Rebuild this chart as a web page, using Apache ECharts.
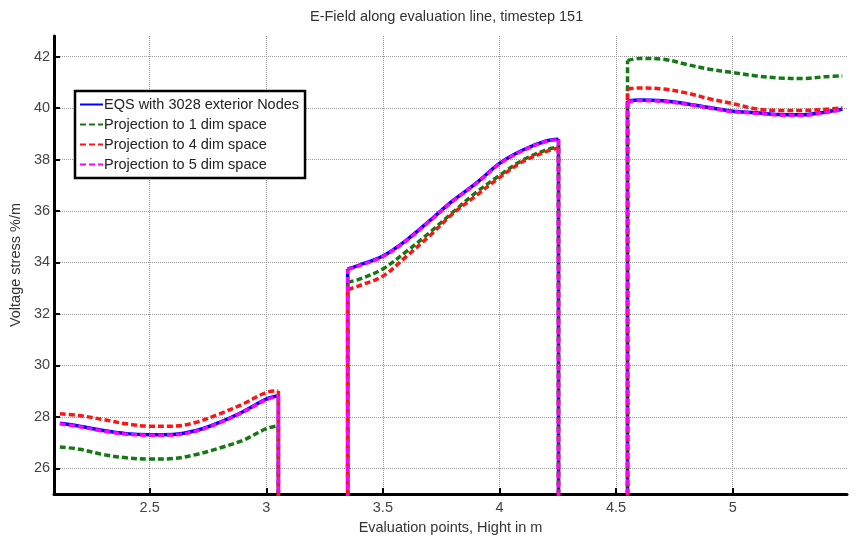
<!DOCTYPE html>
<html>
<head>
<meta charset="utf-8">
<script src="https://cdn.jsdelivr.net/npm/echarts@6/dist/echarts.min.js"></script>
<style>html,body{margin:0;padding:0;background:#fff}#c{width:857px;height:540px}</style>
</head>
<body>
<div id="c"></div>
<script>
// ---- data ----
var seriesNames = ['EQS with 3028 exterior Nodes', 'Projection to 1 dim space', 'Projection to 4 dim space', 'Projection to 5 dim space'];
var seriesColors = ['#0000ff', '#137a13', '#ff1414', '#ff00ff'];
var xTicks = [2.5, 3, 3.5, 4, 4.5, 5];
var yTicks = [26, 28, 30, 32, 34, 36, 38, 40, 42];

var xSeg1 = [2.115, 2.2, 2.3, 2.4, 2.5, 2.6, 2.7, 2.8, 2.9, 3.0, 3.052];
var xSeg2 = [3.349, 3.4, 3.5, 3.6, 3.7, 3.8, 3.9, 4.0, 4.1, 4.2, 4.253];
var xSeg3 = [4.549, 4.6, 4.7, 4.8, 4.9, 5.0, 5.1, 5.2, 5.3, 5.4, 5.47];

var eqs1 = [27.75, 27.64, 27.47, 27.35, 27.31, 27.32, 27.47, 27.79, 28.20, 28.69, 28.82];
var eqs2 = [33.75, 33.90, 34.25, 34.86, 35.62, 36.40, 37.08, 37.85, 38.37, 38.72, 38.79];
var eqs3 = [40.27, 40.31, 40.28, 40.17, 40.02, 39.88, 39.82, 39.75, 39.74, 39.85, 39.95];

var p1a = [26.83, 26.74, 26.54, 26.41, 26.36, 26.38, 26.54, 26.79, 27.09, 27.54, 27.66];
var p1b = [33.24, 33.35, 33.75, 34.42, 35.16, 35.95, 36.72, 37.38, 37.98, 38.37, 38.50];
var p1c = [41.85, 41.93, 41.90, 41.70, 41.51, 41.38, 41.25, 41.17, 41.15, 41.22, 41.25];

var p4a = [28.12, 28.05, 27.90, 27.73, 27.64, 27.64, 27.79, 28.12, 28.50, 28.95, 29.01];
var p4b = [32.95, 33.10, 33.47, 34.23, 35.03, 35.90, 36.60, 37.30, 37.92, 38.31, 38.46];
var p4c = [40.74, 40.78, 40.74, 40.59, 40.36, 40.17, 39.97, 39.91, 39.91, 39.95, 40.01];

var p5a = [27.73, 27.62, 27.45, 27.33, 27.29, 27.30, 27.45, 27.77, 28.18, 28.67, 28.80];
var p5b = [33.73, 33.88, 34.23, 34.84, 35.60, 36.38, 37.06, 37.83, 38.35, 38.70, 38.77];
var p5c = [40.25, 40.29, 40.26, 40.15, 40.00, 39.86, 39.80, 39.73, 39.72, 39.83, 39.93];

var gapLevel = 0; // field value outside the evaluated segments

var FONT = '"Liberation Sans", Arial, sans-serif';
var FS = 14.5;

function zip(xs, ys) { return xs.map(function (x, i) { return [x, ys[i]]; }); }

function makeSeries(idx, a, b, c) {
  var name = seriesNames[idx], color = seriesColors[idx];
  var ls = {color: color, width: 3.5, type: idx === 0 ? 'solid' : [6, 3]};
  var base = {name: name, type: 'line', symbol: 'none', showSymbol: false,
              lineStyle: ls, itemStyle: {color: color}, z: 2 + idx};
  var out = [];
  [[xSeg1, a], [xSeg2, b], [xSeg3, c]].forEach(function (s) {
    out.push(Object.assign({}, base, {data: zip(s[0], s[1]), smooth: 0.35}));
  });
  var e1 = xSeg1.length - 1, e2 = xSeg2.length - 1;
  var edges = [
    [xSeg1[e1], a[e1]], [xSeg1[e1], gapLevel], [xSeg2[0], gapLevel], [xSeg2[0], b[0]], '-',
    [xSeg2[e2], b[e2]], [xSeg2[e2], gapLevel], [xSeg3[0], gapLevel], [xSeg3[0], c[0]]
  ];
  out.push(Object.assign({}, base, {data: edges, smooth: false, connectNulls: false}));
  return out;
}

var series = [].concat(
  makeSeries(0, eqs1, eqs2, eqs3),
  makeSeries(1, p1a, p1b, p1c),
  makeSeries(2, p4a, p4b, p4c),
  makeSeries(3, p5a, p5b, p5c)
);

var chart = echarts.init(document.getElementById('c'), null, {renderer: 'canvas'});
chart.setOption({
  animation: false,
  backgroundColor: '#fff',
  title: {
    text: 'E-Field along evaluation line, timestep 151',
    left: 310, top: 9, padding: 0,
    textStyle: {fontFamily: FONT, fontSize: FS, fontWeight: 'normal', color: '#333'}
  },
  legend: {
    orient: 'vertical', left: 75, top: 91,
    padding: [6, 6, 6, 4], itemGap: 5, itemWidth: 23, itemHeight: 14,
    backgroundColor: '#fff', borderColor: '#000', borderWidth: 2.5,
    itemStyle: {opacity: 0},
    textStyle: {fontFamily: FONT, fontSize: FS, color: '#222', padding: [0, 0, 0, -4]},
    data: seriesNames
  },
  grid: {left: 50, right: 10, top: 36, bottom: 42, containLabel: false},
  xAxis: {
    type: 'value', min: 2.09, max: 5.49,
    name: 'Evaluation points, Hight in m', nameLocation: 'middle', nameGap: 23,
    nameTextStyle: {fontFamily: FONT, fontSize: FS, color: '#333'},
    axisLine: {onZero: false, lineStyle: {color: '#000', width: 3}},
    axisTick: {inside: true, length: 6, lineStyle: {color: '#000', width: 2}, customValues: xTicks},
    axisLabel: {customValues: xTicks, fontFamily: FONT, fontSize: FS, color: '#444', margin: 6},
    splitLine: {show: true, lineStyle: {color: '#999', type: 'dotted', width: 1}}
  },
  yAxis: {
    type: 'value', min: 25, max: 42.8,
    name: 'Voltage stress %/m', nameLocation: 'middle', nameGap: 24, nameRotate: 90,
    nameTextStyle: {fontFamily: FONT, fontSize: FS, color: '#333'},
    axisLine: {show: true, onZero: false, lineStyle: {color: '#000', width: 3}},
    axisTick: {show: true, inside: true, length: 6, lineStyle: {color: '#000', width: 2}, customValues: yTicks},
    axisLabel: {customValues: yTicks, fontFamily: FONT, fontSize: FS, color: '#444', margin: 4},
    splitLine: {show: true, lineStyle: {color: '#999', type: 'dotted', width: 1}}
  },
  series: series
});
</script>
</body>
</html>
